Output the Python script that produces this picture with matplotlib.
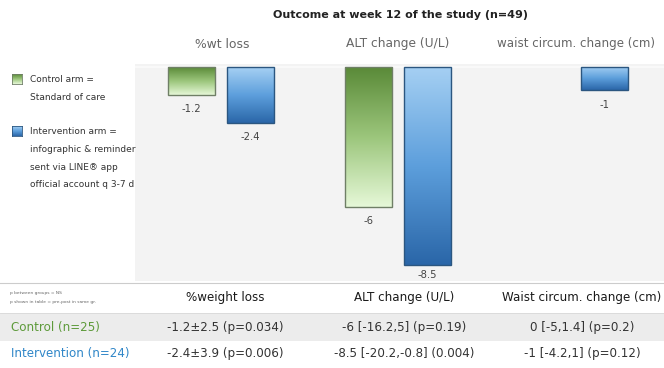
import numpy as np
import matplotlib
matplotlib.use('Agg')
import matplotlib.pyplot as plt
from matplotlib.colors import LinearSegmentedColormap
from matplotlib.patches import Rectangle

plt.rcParams['font.family'] = ['DejaVu Sans']

W, H = 664, 368

# chart data
outcomes = ['%wt loss', 'ALT change (U/L)', 'waist circum. change (cm)']
control_vals = [-1.2, -6, 0]
intervention_vals = [-2.4, -8.5, -1]
control_labels = ['-1.2', '-6', '']
intervention_labels = ['-2.4', '-8.5', '-1']

# table data
table_cols = ['%weight loss', 'ALT change (U/L)', 'Waist circum. change (cm)']
row_names = ['Control (n=25)', 'Intervention (n=24)']
control_row = ['-1.2\u00b12.5 (p=0.034)', '-6 [-16.2,5] (p=0.19)', '0 [-5,1.4] (p=0.2)']
intervention_row = ['-2.4\u00b13.9 (p=0.006)', '-8.5 [-20.2,-0.8] (0.004)', '-1 [-4.2,1] (p=0.12)']

legend_control = ['Control arm =', 'Standard of care']
legend_intervention = ['Intervention arm =', 'infographic & reminder',
                       'sent via LINE\u00ae app', 'official account q 3-7 d']

GREEN_TEXT = '#5d9a3a'
BLUE_TEXT = '#2f86c8'

green_cmap = LinearSegmentedColormap.from_list('g', ['#5a8a38', '#9cc67c', '#e6f8d8'])
blue_cmap = LinearSegmentedColormap.from_list('b', ['#a6d0f3', '#5d9fdc', '#2a66a8'])

YMIN, YMAX = -9.18, 0.13


def fpos(x, y):
    """pixel position -> figure fraction"""
    return x / W, 1 - y / H


fig = plt.figure(figsize=(W / 100, H / 100), dpi=100, facecolor='white')

# gray chart panel
ax = fig.add_axes([135 / W, 1 - 281 / H, (W - 135) / W, 217 / H])
ax.set_facecolor('#f3f3f3')
for s in ax.spines.values():
    s.set_visible(False)
ax.set_xticks([])
ax.set_yticks([])

x = np.arange(len(outcomes))
off = 0.167
bw = 0.266
grad = np.linspace(0, 1, 256).reshape(-1, 1)


def gradient_bars(xs, vals, labels, cmap, edge):
    bars = ax.bar(xs, vals, bw, facecolor='none', edgecolor=edge, linewidth=1.0, zorder=3)
    for b, v, lab in zip(bars, vals, labels):
        if v == 0:
            b.set_visible(False)
            continue
        x0 = b.get_x()
        x1 = x0 + b.get_width()
        im = ax.imshow(grad, cmap=cmap, extent=[x0, x1, v, 0], origin='upper',
                       aspect='auto', zorder=2)
        im.set_clip_path(b)
        ly = max(v - 0.62, YMIN + 0.25)
        ax.text(x0 + b.get_width() / 2, ly, lab, ha='center', va='center',
                fontsize=7.2, color='#444444')


gradient_bars(x - off, control_vals, control_labels, green_cmap, '#6f7f66')
gradient_bars(x + off, intervention_vals, intervention_labels, blue_cmap, '#2b5680')
ax.axhline(0, color='#fbfbfb', linewidth=1.2, zorder=1)

ax.set_xlim(-0.486, 2.503)
ax.set_ylim(YMIN, YMAX)

# header
fig.text(*fpos(400, 15), 'Outcome at week 12 of the study (n=49)', ha='center', va='center',
         fontsize=8.0, fontweight='bold', color='#222222')
for cx, name, fs in zip([222, 398, 576], outcomes, [8.9, 8.8, 8.6]):
    fig.text(*fpos(cx, 44), name, ha='center', va='center', fontsize=fs, color='#666666')


# legend
def legend_icon(y, cmap, edge):
    iax = fig.add_axes([12 / W, 1 - (y + 5) / H, 10 / W, 10 / H])
    iax.imshow(grad, cmap=cmap, aspect='auto')
    iax.set_xticks([])
    iax.set_yticks([])
    for s in iax.spines.values():
        s.set_color(edge)
        s.set_linewidth(0.6)


legend_icon(79, green_cmap, '#6f7f66')
legend_icon(131, blue_cmap, '#2b5680')
for i, line in enumerate(legend_control):
    fig.text(*fpos(30, 79 + 18 * i), line, ha='left', va='center', fontsize=6.5, color='#333333')
for i, line in enumerate(legend_intervention):
    fig.text(*fpos(30, 131 + 18 * i), line, ha='left', va='center', fontsize=6.5, color='#333333')

# table
fig.add_artist(plt.Line2D([0, 1], [1 - 283 / H] * 2, color='#cccccc', linewidth=0.8))
fig.add_artist(Rectangle(fpos(0, 341), 1, 28 / H, facecolor='#ececec', edgecolor='none', zorder=0))
fig.add_artist(plt.Line2D([0, 1], [1 - 313 / H] * 2, color='#d8d8d8', linewidth=0.6))

fig.text(*fpos(10, 293), 'p between groups = NS', ha='left', va='center', fontsize=3.2, color='#666666')
fig.text(*fpos(10, 302), 'p shown in table = pre-post in same gr.', ha='left', va='center',
         fontsize=3.2, color='#666666')

col_x = [225, 404, 582]
for cx, name in zip(col_x, table_cols):
    fig.text(*fpos(cx, 298), name, ha='center', va='center', fontsize=8.6, color='#1a1a1a')

for ry, rname, rcolor, vals in zip([327, 353], row_names, [GREEN_TEXT, BLUE_TEXT],
                                   [control_row, intervention_row]):
    fig.text(*fpos(11, ry), rname, ha='left', va='center', fontsize=8.6, color=rcolor)
    for cx, v in zip(col_x, vals):
        fig.text(*fpos(cx, ry), v, ha='center', va='center', fontsize=8.6, color='#333333')

plt.savefig('out.png', dpi=100, facecolor='white')
plt.close()
